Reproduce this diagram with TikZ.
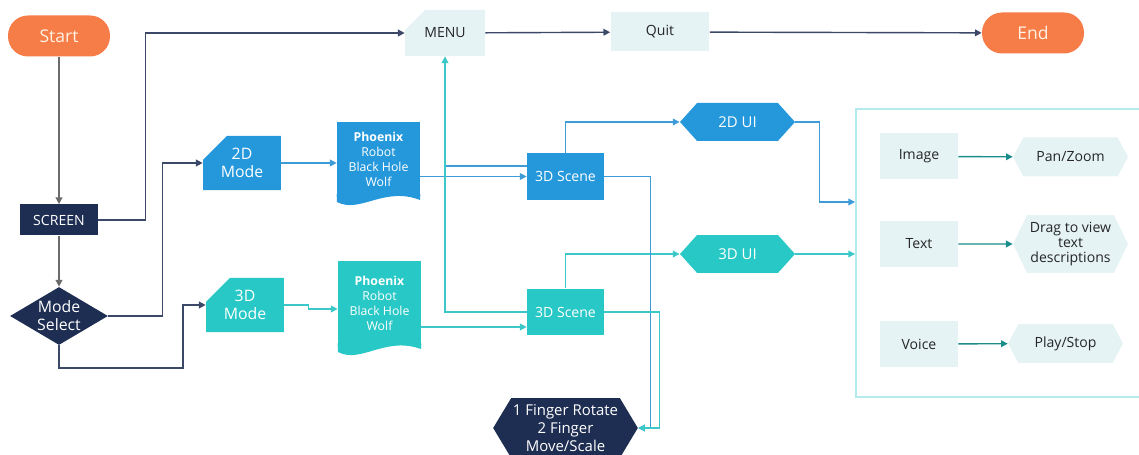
\documentclass[tikz,border=0pt]{standalone}
\usepackage{fontspec}
\setmainfont{Open Sans}
\usetikzlibrary{arrows.meta,positioning,calc,shapes.misc,shapes.symbols,shapes.geometric}
\definecolor{corange}{HTML}{F77D48}
\definecolor{cnavy}{HTML}{1E2D52}
\definecolor{ctwod}{HTML}{2598DC}
\definecolor{cthreed}{HTML}{28C8C6}
\definecolor{clight}{HTML}{E5F3F5}
\definecolor{lnavy}{HTML}{3B4868}
\definecolor{lgray}{HTML}{6B6B6B}
\definecolor{lblue}{HTML}{3D9BD8}
\definecolor{lteal}{HTML}{3CC8C8}
\definecolor{cpanel}{HTML}{B4E9EE}
\definecolor{cinner}{HTML}{1A8C8C}

\begin{document}
\begin{tikzpicture}[x=0.02cm,y=-0.02cm,font=\fontsize{8}{9.6}\selectfont,
  >={Triangle[length=3.8pt,width=3.8pt]},
  term/.style={rounded corners=0.4cm,fill=corange,text=orange!10,minimum width=2.04cm,minimum height=0.82cm,font=\fontsize{10}{12}\selectfont},
  litebox/.style={fill=clight,text=black!85,minimum width=1.56cm,minimum height=0.92cm},
  modebox/.style={chamfered rectangle,chamfered rectangle corners=north west,chamfered rectangle xsep=0.24cm,chamfered rectangle ysep=0.24cm,inner sep=0pt,text=white,minimum width=1.56cm,minimum height=0.92cm,align=center,font=\fontsize{9}{10.5}\selectfont},
  docbox/.style={text=white,minimum width=1.66cm,align=center,inner sep=0pt,font=\fontsize{7}{8.5}\selectfont},
  scenebox/.style={text=white,minimum width=1.54cm,minimum height=0.94cm},
  hexa/.style={signal,signal to=west and east,text=white,inner sep=1pt,align=center},
  navyline/.style={draw=lnavy,line width=0.8pt,->},
  grayline/.style={draw=lgray,line width=0.8pt,->},
  blueline/.style={draw=lblue,line width=0.7pt},
  tealline/.style={draw=lteal,line width=0.7pt},
  innerline/.style={draw=cinner,line width=0.8pt,->}]
\useasboundingbox (0,0) rectangle (1139,455);

% main column
\node[term] (start) at (59,36) {Start};
\node[term] (end) at (1033,33) {End};
\node[litebox,chamfered rectangle,chamfered rectangle corners=north west,chamfered rectangle xsep=0.2cm,chamfered rectangle ysep=0.3cm,inner sep=0pt,minimum width=1.6cm] (menu) at (445,33) {MENU};
\node[litebox,minimum width=1.98cm,minimum height=0.78cm] (quit) at (660,32) {Quit};
\node[fill=cnavy,text=white,minimum width=1.56cm,minimum height=0.62cm] (screen) at (59,220) {SCREEN};
\node[diamond,fill=cnavy,text=white,aspect=1.7,inner sep=0pt,minimum width=1.96cm,minimum height=1.16cm,align=center,font=\fontsize{9}{10.3}\selectfont] (ms) at (59,316) {Mode\\Select};

% modes and documents
\node[modebox,fill=ctwod] (m2) at (242,163) {2D\\Mode};
\node[modebox,fill=cthreed] (m3) at (245,305) {3D\\Mode};
\node[docbox,fill=ctwod,minimum height=1.48cm] (d2) at (378.5,159) {\textbf{Phoenix}\\Robot\\Black Hole\\Wolf};
\fill[ctwod] ([yshift=0.04cm]d2.south west) -- (337,202) .. controls (360,214) and (384,186) .. (420,200) -- ([yshift=0.04cm]d2.south east) -- cycle;
\node[docbox,fill=cthreed,minimum height=1.68cm] (d3) at (379.5,303) {\textbf{Phoenix}\\Robot\\Black Hole\\Wolf};
\fill[cthreed] ([yshift=0.04cm]d3.south west) -- (338,352) .. controls (361,364) and (385,336) .. (421,349) -- ([yshift=0.04cm]d3.south east) -- cycle;

% scenes and ui
\node[scenebox,fill=ctwod] (s2) at (565.5,176.5) {3D Scene};
\node[scenebox,fill=cthreed] (s3) at (565.5,312) {3D Scene};
\node[hexa,fill=ctwod,signal pointer angle=96,minimum width=2.3cm,minimum height=0.76cm,font=\fontsize{8.5}{10}\selectfont] (ui2) at (737.5,122) {2D UI};
\node[hexa,fill=cthreed,signal pointer angle=96,minimum width=2.3cm,minimum height=0.76cm,font=\fontsize{8.5}{10}\selectfont] (ui3) at (737.5,254) {3D UI};
\node[hexa,fill=cnavy,signal pointer angle=118,minimum width=2.74cm,minimum height=1.2cm,font=\fontsize{8.5}{10.2}\selectfont] (fing) at (565.5,428) {1 Finger Rotate\\2 Finger\\Move/Scale};

% interaction panel
\node[draw=cpanel,line width=1.1pt,minimum width=5.78cm,minimum height=5.76cm] (panel) at (1000.5,253) {};
\node[litebox] (img) at (919,156.5) {Image};
\node[litebox] (txt) at (919,244) {Text};
\node[litebox] (voice) at (919,344) {Voice};
\node[hexa,fill=clight,text=black!85,signal pointer angle=124,minimum width=2.3cm,minimum height=0.78cm] (pan) at (1070.5,157) {Pan/Zoom};
\node[hexa,fill=clight,text=black!85,signal pointer angle=128,minimum width=2.3cm,minimum height=1.16cm,font=\fontsize{8}{8.6}\selectfont] (drag) at (1070.5,244) {Drag to view\\text\\descriptions};
\node[hexa,fill=clight,text=black!85,signal pointer angle=124,minimum width=2.3cm,minimum height=0.78cm] (play) at (1065.5,343.5) {Play/Stop};

% connectors
\draw[grayline] (start) -- (screen);
\draw[grayline] (screen) -- (ms);
\draw[navyline] (screen.east) -- ++(47,0) |- (menu.west);
\draw[navyline] (ms.east) -- ++(54,0) |- (m2.west);
\draw[navyline] (ms.south) |- (183,368) |- (m3.west);
\draw[navyline] (menu) -- (quit);
\draw[navyline] (quit) -- (end);

\draw[blueline,->] (m2.east) -- (m2.east -| d2.west);
\draw[tealline,->] (m3.east) -- ++(24,0) -- ++(0,4) -- (d3.west |- 0,309);
\draw[blueline,->] (d2.east |- s2.west) -- (s2.west);
\draw[tealline,->] (d3.east |- 0,327) -- (s3.west |- 0,327);

\coordinate (r2) at (s2.west |- 0,166);
\draw[blueline] (r2) -- (r2 -| menu.south);
\draw[tealline,->] (s3.west) -| (menu.south);

\draw[blueline,->] (s2.north) |- (ui2.west);
\draw[tealline,->] (s3.north) |- (ui3.west);
\draw[blueline,->] (s2.east) -- ++(46,0) |- (fing.east);
\draw[tealline,->] (s3.east) -- ++(55,0) |- (fing.east);
\draw[blueline,->] (ui2.east) -- ++(24,0) |- (panel.west |- 0,202);
\draw[tealline,->] (ui3.east) -- (ui3.east -| panel.west);

\draw[innerline] (img) -- (pan);
\draw[innerline] (txt) -- (drag);
\draw[innerline] (voice) -- (play);
\end{tikzpicture}
\end{document}
